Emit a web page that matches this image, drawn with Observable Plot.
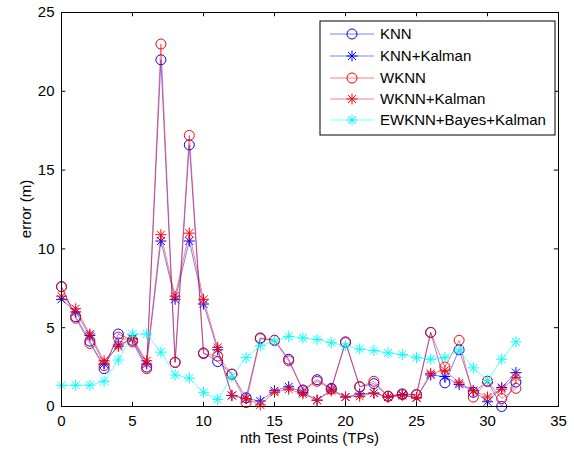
<!DOCTYPE html>
<html><head><meta charset="utf-8">
<script src="https://cdn.jsdelivr.net/npm/d3@7"></script>
<script src="https://cdn.jsdelivr.net/npm/@observablehq/plot@0.6"></script>
<style>
body{margin:0;background:#fff}
svg{font-family:"Liberation Sans",Arial,sans-serif}
</style>
</head><body><div id="chart"></div>
<script>
const tp = [0,1,2,3,4,5,6,7,8,9,10,11,12,13,14,15,16,17,18,19,20,21,22,23,24,25,26,27,28,29,30,31,32];
const knn    = [7.6,5.7,4.15,2.4,4.6,4.2,2.5,22.0,2.8,16.6,3.4,2.85,2.05,0.55,4.35,4.2,3.0,1.05,1.7,1.15,4.1,1.25,1.45,0.65,0.8,0.75,4.7,1.5,3.6,0.9,1.6,0.0,1.55];
const knnK   = [6.8,6.0,4.5,2.7,3.9,4.3,2.7,10.5,6.8,10.5,6.5,3.6,0.7,0.5,0.35,1.0,1.25,0.9,0.4,1.1,0.6,0.8,0.85,0.6,0.75,0.55,2.0,1.9,1.4,1.0,0.3,1.2,2.15];
const wknn   = [7.6,5.6,4.0,2.6,4.4,4.1,2.4,23.0,2.8,17.2,3.35,3.2,2.05,0.25,4.3,4.2,2.9,1.0,1.6,1.1,4.05,1.25,1.6,0.65,0.75,0.75,4.7,2.5,4.2,0.6,1.6,0.5,1.15];
const wknnK  = [7.0,6.2,4.6,2.9,3.8,4.3,2.9,10.9,7.0,11.0,6.8,3.75,0.7,0.5,0.1,0.9,1.1,0.8,0.4,1.0,0.6,0.65,0.85,0.6,0.7,0.55,2.1,2.3,1.5,1.0,0.6,1.1,1.85];
const ewknn  = [1.35,1.35,1.35,1.6,2.95,4.6,4.6,3.45,2.0,1.8,0.9,0.45,1.9,3.1,3.85,4.15,4.45,4.35,4.25,4.05,3.85,3.65,3.55,3.4,3.3,3.1,3.0,3.1,3.6,2.45,1.65,3.0,4.1];
const seriesNames = ["KNN","KNN+Kalman","WKNN","WKNN+Kalman","EWKNN+Bayes+Kalman"];
const seriesColors = ["#0000ff","#0000ff","#ff0000","#ff0000","#00ffff"];
const seriesMarkers = ["circle","star","circle","star","star"];
const xTicks = [0,5,10,15,20,25,30,35];
const yTicks = [0,5,10,15,20,25];
const xLabel = "nth Test Points (TPs)";
const yLabel = "error (m)";

const star8 = {
  draw(ctx, size) {
    const r = Math.sqrt(size / Math.PI), d = r * 0.72;
    ctx.moveTo(-r, 0); ctx.lineTo(r, 0);
    ctx.moveTo(0, -r); ctx.lineTo(0, r);
    ctx.moveTo(-d, -d); ctx.lineTo(d, d);
    ctx.moveTo(-d, d); ctx.lineTo(d, -d);
  }
};
const values = [knn, knnK, wknn, wknnK, ewknn];
const seriesMarks = [];
values.forEach((vals, k) => {
  const rows = tp.map((x, i) => ({x, y: vals[i]}));
  seriesMarks.push(Plot.line(rows, {x: "x", y: "y", stroke: seriesColors[k], strokeOpacity: k === 4 ? 0.6 : 0.5, strokeWidth: 1}));
  seriesMarks.push(Plot.dot(rows, {x: "x", y: "y", stroke: seriesColors[k], strokeWidth: 1, fill: "none",
    r: seriesMarkers[k] === "circle" ? 5 : 5.5,
    symbol: seriesMarkers[k] === "circle" ? "circle" : star8}));
});

const xt = 0.27, yt = 0.3;
const chart = Plot.plot({
  width: 574, height: 450,
  marginLeft: 61, marginRight: 16, marginTop: 12, marginBottom: 44,
  style: {fontSize: "15px", fontFamily: "Liberation Sans, Arial, sans-serif", background: "#fff", color: "#000"},
  x: {domain: [0, 35]},
  y: {domain: [0, 25]},
  marks: [
    ...seriesMarks,
    Plot.ruleX(xTicks, {x: d => d, y1: 0, y2: xt, stroke: "black"}),
    Plot.ruleX(xTicks, {x: d => d, y1: 25, y2: 25 - xt, stroke: "black"}),
    Plot.ruleY(yTicks, {y: d => d, x1: 0, x2: yt, stroke: "black"}),
    Plot.ruleY(yTicks, {y: d => d, x1: 35, x2: 35 - yt, stroke: "black"}),
    Plot.frame({stroke: "black", strokeWidth: 1}),
    Plot.axisX({ticks: xTicks, tickSize: 0, tickPadding: 9, label: null, fontSize: 15}),
    Plot.axisY({ticks: yTicks, tickSize: 0, tickPadding: 7, label: null, fontSize: 15})
  ]
});
document.getElementById("chart").appendChild(chart);

const svg = d3.select(chart);
svg.append("text").attr("x", 309.5).attr("y", 443).attr("text-anchor", "middle")
  .attr("font-size", 15).attr("fill", "#000").text(xLabel);
svg.append("text").attr("transform", "translate(31,209) rotate(-90)").attr("text-anchor", "middle")
  .attr("font-size", 15).attr("fill", "#000").text(yLabel);

// legend
const lg = svg.append("g").attr("text-anchor", "start");
lg.append("rect").attr("x", 320).attr("y", 21).attr("width", 235).attr("height", 114)
  .attr("fill", "#fff").attr("stroke", "#000").attr("stroke-width", 1);
const rowY = [34, 56, 78, 99, 120];
seriesNames.forEach((name, k) => {
  const y = rowY[k];
  lg.append("line").attr("x1", 330).attr("x2", 374).attr("y1", y).attr("y2", y)
    .attr("stroke", seriesColors[k]).attr("stroke-opacity", 0.5).attr("stroke-width", 1);
  const sym = seriesMarkers[k] === "circle" ? d3.symbol(d3.symbolCircle, Math.PI * 25)
                                            : d3.symbol(star8, Math.PI * 5.5 * 5.5);
  lg.append("path").attr("d", sym()).attr("transform", `translate(352,${y})`)
    .attr("fill", "none").attr("stroke", seriesColors[k]).attr("stroke-width", 1);
  lg.append("text").attr("x", 380).attr("y", y).attr("dy", "0.35em").attr("text-anchor", "start")
    .attr("font-size", 15).attr("fill", "#000").text(name);
});
</script>
</body></html>
